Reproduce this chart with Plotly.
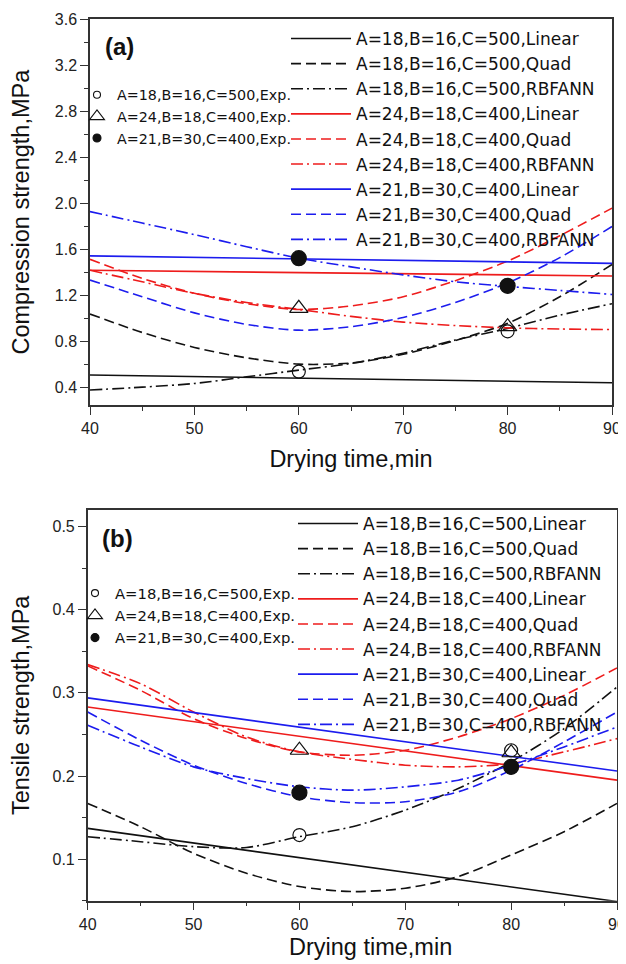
import plotly.graph_objects as go

# ---------------- data ----------------
x_time = [40, 45, 50, 55, 60, 65, 70, 75, 80, 85, 90]
x_lin = [40, 90]
x_exp = [60, 80]

series_names = [
    "A=18,B=16,C=500,Linear", "A=18,B=16,C=500,Quad", "A=18,B=16,C=500,RBFANN",
    "A=24,B=18,C=400,Linear", "A=24,B=18,C=400,Quad", "A=24,B=18,C=400,RBFANN",
    "A=21,B=30,C=400,Linear", "A=21,B=30,C=400,Quad", "A=21,B=30,C=400,RBFANN",
]
exp_names = ["A=18,B=16,C=500,Exp.", "A=24,B=18,C=400,Exp.", "A=21,B=30,C=400,Exp."]
x_title = "Drying time,min"
y_title_a = "Compression strength,MPa"
y_title_b = "Tensile strength,MPa"

# (a) compression strength, MPa
comp_lin_18 = [0.51, 0.443]
comp_quad_18 = [1.04, 0.88, 0.75, 0.66, 0.605, 0.615, 0.69, 0.81, 0.96, 1.19, 1.47]
comp_rbf_18 = [0.38, 0.405, 0.437, 0.495, 0.553, 0.611, 0.70, 0.814, 0.915, 1.03, 1.13]
comp_lin_24 = [1.42, 1.37]
comp_quad_24 = [1.515, 1.35, 1.22, 1.13, 1.08, 1.11, 1.19, 1.33, 1.50, 1.72, 1.96]
comp_rbf_24 = [1.42, 1.32, 1.22, 1.14, 1.08, 1.02, 0.97, 0.94, 0.92, 0.91, 0.905]
comp_lin_21 = [1.545, 1.48]
comp_quad_21 = [1.335, 1.19, 1.05, 0.95, 0.90, 0.93, 1.01, 1.14, 1.31, 1.53, 1.80]
comp_rbf_21 = [1.93, 1.83, 1.73, 1.625, 1.525, 1.45, 1.38, 1.32, 1.28, 1.245, 1.21]
comp_exp_18 = [0.54, 0.89]
comp_exp_24 = [1.09, 0.93]
comp_exp_21 = [1.525, 1.285]

# (b) tensile strength, MPa
tens_lin_18 = [0.137, 0.049]
tens_quad_18 = [0.167, 0.139, 0.107, 0.083, 0.067, 0.061, 0.065, 0.079, 0.105, 0.133, 0.167]
tens_rbf_18 = [0.127, 0.121, 0.115, 0.114, 0.127, 0.139, 0.159, 0.185, 0.217, 0.257, 0.307]
tens_lin_24 = [0.283, 0.195]
tens_quad_24 = [0.3325, 0.303, 0.269, 0.245, 0.229, 0.225, 0.231, 0.247, 0.269, 0.297, 0.330]
tens_rbf_24 = [0.334, 0.311, 0.277, 0.247, 0.229, 0.220, 0.213, 0.211, 0.215, 0.229, 0.245]
tens_lin_21 = [0.294, 0.206]
tens_quad_21 = [0.277, 0.243, 0.213, 0.191, 0.175, 0.168, 0.169, 0.181, 0.207, 0.241, 0.277]
tens_rbf_21 = [0.261, 0.235, 0.211, 0.197, 0.187, 0.183, 0.187, 0.195, 0.213, 0.235, 0.259]
tens_exp_18 = [0.129, 0.231]
tens_exp_24 = [0.231, 0.228]
tens_exp_21 = [0.18, 0.211]

# ---------------- styles ----------------
BLACK, RED, BLUE = "#111111", "#ee1c1c", "#1c1cee"
DASH = "10px,5px"
DASHDOT = "12px,4px,2px,4px"
colors = [BLACK, BLACK, BLACK, RED, RED, RED, BLUE, BLUE, BLUE]
dashes = ["solid", DASH, DASHDOT] * 3
LW = 1.6

comp_series = [comp_lin_18, comp_quad_18, comp_rbf_18, comp_lin_24, comp_quad_24,
               comp_rbf_24, comp_lin_21, comp_quad_21, comp_rbf_21]
tens_series = [tens_lin_18, tens_quad_18, tens_rbf_18, tens_lin_24, tens_quad_24,
               tens_rbf_24, tens_lin_21, tens_quad_21, tens_rbf_21]
comp_exp = [comp_exp_18, comp_exp_24, comp_exp_21]
tens_exp = [tens_exp_18, tens_exp_24, tens_exp_21]

exp_symbols = ["circle-open", "triangle-up-open", "circle"]
exp_sizes_plot = [13, 16, 15]
exp_sizes_legend = [7, 13, 8]

fig = go.Figure()


def add_panel(series, exps, xa, ya, leg_lines, leg_exp):
    for i, (name, vals) in enumerate(zip(series_names, series)):
        xs = x_lin if len(vals) == 2 else x_time
        fig.add_trace(go.Scatter(
            x=xs, y=vals, mode="lines", name=name,
            line=dict(color=colors[i], width=LW, dash=dashes[i], shape="spline", smoothing=0.8),
            xaxis=xa, yaxis=ya, legend=leg_lines))
    for j, (name, vals) in enumerate(zip(exp_names, exps)):
        fig.add_trace(go.Scatter(
            x=x_exp, y=vals, mode="markers", name=name, showlegend=False,
            marker=dict(symbol=exp_symbols[j], size=exp_sizes_plot[j], color=BLACK,
                        line=dict(color=BLACK, width=1.2)),
            xaxis=xa, yaxis=ya))
        # legend entry
        fig.add_trace(go.Scatter(
            x=[None], y=[None], mode="markers", name=name,
            marker=dict(symbol=exp_symbols[j], size=exp_sizes_legend[j], color=BLACK,
                        line=dict(color=BLACK, width=1.1)),
            xaxis=xa, yaxis=ya, legend=leg_exp))


add_panel(comp_series, comp_exp, "x", "y", "legend", "legend2")
add_panel(tens_series, tens_exp, "x2", "y2", "legend3", "legend4")

W, H = 626, 964
OFF = 8  # the page places the figure 8 px right and down
AX_COLOR = "#333333"
tickfont = dict(family="Liberation Sans, Arial, sans-serif", size=16, color="#222222")
titlefont = dict(family="Liberation Sans, Arial, sans-serif", size=23.5, color="#111111")


def px(v):
    return (v - OFF) / W


def py(v):
    return 1 - (v - OFF) / H


def axis(**kw):
    d = dict(showline=True, linecolor=AX_COLOR, linewidth=1.5, mirror=True,
             ticks="outside", ticklen=8, tickwidth=1.4, tickcolor=AX_COLOR,
             showgrid=False, zeroline=False, tickfont=tickfont, automargin=False,
             minor=dict(ticks="outside", ticklen=4, tickwidth=1.2, tickcolor=AX_COLOR, showgrid=False))
    d.update(kw)
    return d


# page-pixel boxes of the two panels
a_l, a_r, a_t, a_b = 90, 612, 19.3, 405
b_l, b_r, b_t, b_b = 87.7, 617, 510, 900.7

legfont_lines = dict(family="DejaVu Sans", size=17, color="#111111")

fig.update_layout(
    width=W, height=H, margin=dict(l=0, r=0, t=0, b=0, autoexpand=False),
    paper_bgcolor="white", plot_bgcolor="white",
    xaxis=axis(domain=[px(a_l), px(a_r)], range=[40, 90], dtick=10, tick0=40,
               anchor="y", minor_dtick=5,
               title=dict(text=x_title, font=titlefont, standoff=15)),
    yaxis=axis(domain=[py(a_b), py(a_t)], range=[0.25, 3.6], dtick=0.4, tick0=0.4,
               tickformat=".1f", anchor="x", minor_dtick=0.2,
               title=dict(text=y_title_a, font=titlefont, standoff=19)),
    xaxis2=axis(domain=[px(b_l), px(b_r)], range=[40, 90], dtick=10, tick0=40,
                anchor="y2", minor_dtick=5),
    yaxis2=axis(domain=[py(b_b), py(b_t)], range=[0.05, 0.52], dtick=0.1, tick0=0.1,
                tickformat=".1f", anchor="x2", minor_dtick=0.05,
                title=dict(text=y_title_b, font=titlefont, standoff=19)),
    legend=dict(x=px(286), y=py(21), xanchor="left", yanchor="top",
                bgcolor="rgba(0,0,0,0)", itemwidth=60, traceorder="normal",
                font=legfont_lines),
    legend2=dict(x=px(77), y=py(79), xanchor="left", yanchor="top",
                 bgcolor="rgba(0,0,0,0)", itemwidth=30, traceorder="normal",
                 font=dict(family="DejaVu Sans", size=14.3, color="#111111")),
    legend3=dict(x=px(293), y=py(506), xanchor="left", yanchor="top",
                 bgcolor="rgba(0,0,0,0)", itemwidth=60, traceorder="normal",
                 font=legfont_lines),
    legend4=dict(x=px(75), y=py(577), xanchor="left", yanchor="top",
                 bgcolor="rgba(0,0,0,0)", itemwidth=30, traceorder="normal",
                 font=dict(family="DejaVu Sans", size=14.8, color="#111111")),
    annotations=[
        dict(text="<b>(a)</b>", x=px(119), y=py(47), xref="paper", yref="paper",
             xanchor="center", yanchor="middle", showarrow=False,
             font=dict(family="Liberation Sans, Arial", size=24, color="#111111")),
        dict(text="<b>(b)</b>", x=px(117), y=py(538), xref="paper", yref="paper",
             xanchor="center", yanchor="middle", showarrow=False,
             font=dict(family="Liberation Sans, Arial", size=24, color="#111111")),
        # x-axis title of panel (b), which sits right of the axis centre in the reference
        dict(text=x_title, x=px(370), y=py(947), xref="paper", yref="paper",
             xanchor="center", yanchor="middle", showarrow=False, font=titlefont),
    ],
)

fig.write_html("out.html")
